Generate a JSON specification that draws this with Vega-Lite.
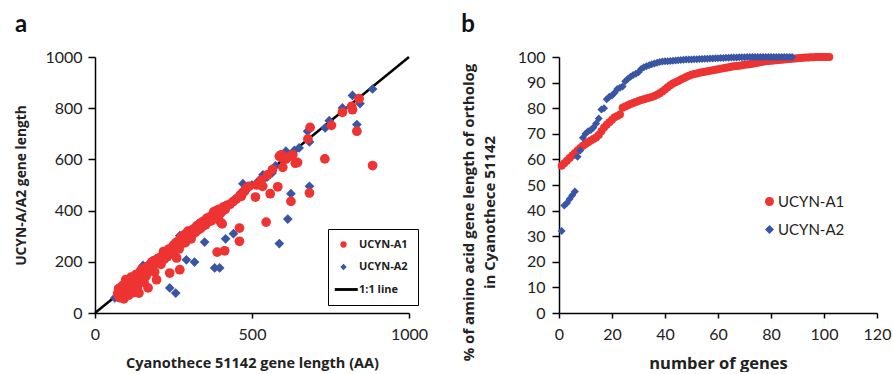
{
  "$schema": "https://vega.github.io/schema/vega-lite/v6.json",
  "padding": {"left": 14, "top": 13, "right": 5, "bottom": 0},
  "background": "white",
  "bounds": "flush",
  "spacing": 150,
  "config": {
    "font": "Lato",
    "view": {"stroke": null},
    "axis": {
      "domainColor": "black", "tickColor": "black", "grid": false,
      "labelColor": "#222", "labelFontSize": 16, "labelFont": "Lato",
      "titleFontSize": 14, "titleFontWeight": "bold", "titleColor": "#222", "titleFont": "Open Sans",
      "domainWidth": 1.5, "tickWidth": 1.5, "labelFlush": false, "labelOverlap": false, "format": "d"
    },
    "title": {"fontSize": 24, "fontWeight": "bold", "anchor": "start", "frame": "bounds", "color": "#111", "font": "Lato"}
  },
  "resolve": {"scale": {"color": "independent", "shape": "independent"}, "legend": {"color": "independent", "shape": "independent"}},
  "hconcat": [
    {
      "title": {"text": "a", "offset": 12},
      "width": 314,
      "height": 256,
      "layer": [
        {
          "data": {"values": [{"x": 0, "y": 0}, {"x": 1000, "y": 1000}]},
          "mark": {"type": "line", "color": "black", "strokeWidth": 2.5},
          "encoding": {
            "x": {"field": "x", "type": "quantitative", "scale": {"domain": [0, 1000]},
              "axis": {"values": [0, 500, 1000], "title": "Cyanothece 51142 gene length (AA)", "titleFontSize": 14.5, "tickSize": 5, "labelPadding": 8, "titlePadding": 14}},
            "y": {"field": "y", "type": "quantitative", "scale": {"domain": [0, 1000]},
              "axis": {"values": [0, 200, 400, 600, 800, 1000], "title": "UCYN-A/A2 gene length", "titleFontSize": 13.8, "tickSize": 7, "labelPadding": 6, "titlePadding": 16}}
          }
        },
        {
          "data": {"values": [
            {"cyano":63,"ucyn":59,"series":"UCYN-A2"},{"cyano":72,"ucyn":68,"series":"UCYN-A2"},{"cyano":80,"ucyn":85,"series":"UCYN-A2"},{"cyano":88,"ucyn":95,"series":"UCYN-A2"},{"cyano":95,"ucyn":92,"series":"UCYN-A2"},{"cyano":105,"ucyn":112,"series":"UCYN-A2"},{"cyano":115,"ucyn":120,"series":"UCYN-A2"},{"cyano":125,"ucyn":135,"series":"UCYN-A2"},{"cyano":135,"ucyn":140,"series":"UCYN-A2"},{"cyano":145,"ucyn":152,"series":"UCYN-A2"},{"cyano":153,"ucyn":186,"series":"UCYN-A2"},{"cyano":160,"ucyn":170,"series":"UCYN-A2"},{"cyano":170,"ucyn":175,"series":"UCYN-A2"},{"cyano":180,"ucyn":190,"series":"UCYN-A2"},{"cyano":194,"ucyn":212,"series":"UCYN-A2"},{"cyano":200,"ucyn":205,"series":"UCYN-A2"},{"cyano":215,"ucyn":225,"series":"UCYN-A2"},{"cyano":225,"ucyn":232,"series":"UCYN-A2"},{"cyano":238,"ucyn":98,"series":"UCYN-A2"},{"cyano":257,"ucyn":78,"series":"UCYN-A2"},{"cyano":240,"ucyn":250,"series":"UCYN-A2"},{"cyano":250,"ucyn":258,"series":"UCYN-A2"},{"cyano":262,"ucyn":268,"series":"UCYN-A2"},{"cyano":270,"ucyn":302,"series":"UCYN-A2"},{"cyano":280,"ucyn":290,"series":"UCYN-A2"},{"cyano":291,"ucyn":208,"series":"UCYN-A2"},{"cyano":300,"ucyn":305,"series":"UCYN-A2"},{"cyano":310,"ucyn":312,"series":"UCYN-A2"},{"cyano":317,"ucyn":199,"series":"UCYN-A2"},{"cyano":327,"ucyn":348,"series":"UCYN-A2"},{"cyano":335,"ucyn":340,"series":"UCYN-A2"},{"cyano":349,"ucyn":277,"series":"UCYN-A2"},{"cyano":358,"ucyn":358,"series":"UCYN-A2"},{"cyano":365,"ucyn":365,"series":"UCYN-A2"},{"cyano":381,"ucyn":176,"series":"UCYN-A2"},{"cyano":397,"ucyn":176,"series":"UCYN-A2"},{"cyano":375,"ucyn":380,"series":"UCYN-A2"},{"cyano":390,"ucyn":392,"series":"UCYN-A2"},{"cyano":407,"ucyn":393,"series":"UCYN-A2"},{"cyano":416,"ucyn":290,"series":"UCYN-A2"},{"cyano":425,"ucyn":420,"series":"UCYN-A2"},{"cyano":441,"ucyn":310,"series":"UCYN-A2"},{"cyano":445,"ucyn":445,"series":"UCYN-A2"},{"cyano":460,"ucyn":455,"series":"UCYN-A2"},{"cyano":471,"ucyn":505,"series":"UCYN-A2"},{"cyano":480,"ucyn":478,"series":"UCYN-A2"},{"cyano":500,"ucyn":500,"series":"UCYN-A2"},{"cyano":520,"ucyn":515,"series":"UCYN-A2"},{"cyano":535,"ucyn":540,"series":"UCYN-A2"},{"cyano":548,"ucyn":531,"series":"UCYN-A2"},{"cyano":564,"ucyn":547,"series":"UCYN-A2"},{"cyano":575,"ucyn":575,"series":"UCYN-A2"},{"cyano":587,"ucyn":271,"series":"UCYN-A2"},{"cyano":595,"ucyn":600,"series":"UCYN-A2"},{"cyano":608,"ucyn":632,"series":"UCYN-A2"},{"cyano":614,"ucyn":367,"series":"UCYN-A2"},{"cyano":624,"ucyn":466,"series":"UCYN-A2"},{"cyano":635,"ucyn":635,"series":"UCYN-A2"},{"cyano":650,"ucyn":645,"series":"UCYN-A2"},{"cyano":677,"ucyn":710,"series":"UCYN-A2"},{"cyano":683,"ucyn":668,"series":"UCYN-A2"},{"cyano":683,"ucyn":495,"series":"UCYN-A2"},{"cyano":733,"ucyn":723,"series":"UCYN-A2"},{"cyano":746,"ucyn":751,"series":"UCYN-A2"},{"cyano":788,"ucyn":801,"series":"UCYN-A2"},{"cyano":820,"ucyn":850,"series":"UCYN-A2"},{"cyano":834,"ucyn":736,"series":"UCYN-A2"},{"cyano":844,"ucyn":818,"series":"UCYN-A2"},{"cyano":884,"ucyn":875,"series":"UCYN-A2"},
            {"cyano":72,"ucyn":75,"series":"UCYN-A1"},{"cyano":75,"ucyn":95,"series":"UCYN-A1"},{"cyano":78,"ucyn":60,"series":"UCYN-A1"},{"cyano":80,"ucyn":85,"series":"UCYN-A1"},{"cyano":82,"ucyn":100,"series":"UCYN-A1"},{"cyano":85,"ucyn":70,"series":"UCYN-A1"},{"cyano":88,"ucyn":90,"series":"UCYN-A1"},{"cyano":90,"ucyn":110,"series":"UCYN-A1"},{"cyano":92,"ucyn":55,"series":"UCYN-A1"},{"cyano":95,"ucyn":80,"series":"UCYN-A1"},{"cyano":98,"ucyn":130,"series":"UCYN-A1"},{"cyano":100,"ucyn":100,"series":"UCYN-A1"},{"cyano":103,"ucyn":85,"series":"UCYN-A1"},{"cyano":105,"ucyn":115,"series":"UCYN-A1"},{"cyano":108,"ucyn":70,"series":"UCYN-A1"},{"cyano":110,"ucyn":125,"series":"UCYN-A1"},{"cyano":113,"ucyn":95,"series":"UCYN-A1"},{"cyano":115,"ucyn":140,"series":"UCYN-A1"},{"cyano":118,"ucyn":105,"series":"UCYN-A1"},{"cyano":120,"ucyn":120,"series":"UCYN-A1"},{"cyano":123,"ucyn":80,"series":"UCYN-A1"},{"cyano":125,"ucyn":135,"series":"UCYN-A1"},{"cyano":128,"ucyn":110,"series":"UCYN-A1"},{"cyano":130,"ucyn":150,"series":"UCYN-A1"},{"cyano":133,"ucyn":125,"series":"UCYN-A1"},{"cyano":135,"ucyn":100,"series":"UCYN-A1"},{"cyano":138,"ucyn":145,"series":"UCYN-A1"},{"cyano":140,"ucyn":78,"series":"UCYN-A1"},{"cyano":143,"ucyn":160,"series":"UCYN-A1"},{"cyano":145,"ucyn":130,"series":"UCYN-A1"},{"cyano":148,"ucyn":170,"series":"UCYN-A1"},{"cyano":150,"ucyn":140,"series":"UCYN-A1"},{"cyano":153,"ucyn":155,"series":"UCYN-A1"},{"cyano":156,"ucyn":120,"series":"UCYN-A1"},{"cyano":158,"ucyn":175,"series":"UCYN-A1"},{"cyano":160,"ucyn":160,"series":"UCYN-A1"},{"cyano":163,"ucyn":145,"series":"UCYN-A1"},{"cyano":165,"ucyn":180,"series":"UCYN-A1"},{"cyano":169,"ucyn":98,"series":"UCYN-A1"},{"cyano":170,"ucyn":165,"series":"UCYN-A1"},{"cyano":175,"ucyn":190,"series":"UCYN-A1"},{"cyano":178,"ucyn":170,"series":"UCYN-A1"},{"cyano":182,"ucyn":200,"series":"UCYN-A1"},{"cyano":185,"ucyn":185,"series":"UCYN-A1"},{"cyano":188,"ucyn":205,"series":"UCYN-A1"},{"cyano":190,"ucyn":160,"series":"UCYN-A1"},{"cyano":196,"ucyn":130,"series":"UCYN-A1"},{"cyano":198,"ucyn":210,"series":"UCYN-A1"},{"cyano":200,"ucyn":200,"series":"UCYN-A1"},{"cyano":205,"ucyn":215,"series":"UCYN-A1"},{"cyano":210,"ucyn":190,"series":"UCYN-A1"},{"cyano":215,"ucyn":225,"series":"UCYN-A1"},{"cyano":218,"ucyn":240,"series":"UCYN-A1"},{"cyano":220,"ucyn":210,"series":"UCYN-A1"},{"cyano":225,"ucyn":235,"series":"UCYN-A1"},{"cyano":230,"ucyn":220,"series":"UCYN-A1"},{"cyano":235,"ucyn":250,"series":"UCYN-A1"},{"cyano":238,"ucyn":156,"series":"UCYN-A1"},{"cyano":240,"ucyn":240,"series":"UCYN-A1"},{"cyano":245,"ucyn":255,"series":"UCYN-A1"},{"cyano":248,"ucyn":230,"series":"UCYN-A1"},{"cyano":250,"ucyn":265,"series":"UCYN-A1"},{"cyano":255,"ucyn":250,"series":"UCYN-A1"},{"cyano":258,"ucyn":275,"series":"UCYN-A1"},{"cyano":260,"ucyn":215,"series":"UCYN-A1"},{"cyano":262,"ucyn":260,"series":"UCYN-A1"},{"cyano":265,"ucyn":280,"series":"UCYN-A1"},{"cyano":268,"ucyn":250,"series":"UCYN-A1"},{"cyano":270,"ucyn":169,"series":"UCYN-A1"},{"cyano":272,"ucyn":290,"series":"UCYN-A1"},{"cyano":275,"ucyn":270,"series":"UCYN-A1"},{"cyano":278,"ucyn":300,"series":"UCYN-A1"},{"cyano":280,"ucyn":280,"series":"UCYN-A1"},{"cyano":285,"ucyn":305,"series":"UCYN-A1"},{"cyano":288,"ucyn":275,"series":"UCYN-A1"},{"cyano":290,"ucyn":310,"series":"UCYN-A1"},{"cyano":293,"ucyn":295,"series":"UCYN-A1"},{"cyano":296,"ucyn":320,"series":"UCYN-A1"},{"cyano":300,"ucyn":300,"series":"UCYN-A1"},{"cyano":303,"ucyn":315,"series":"UCYN-A1"},{"cyano":306,"ucyn":290,"series":"UCYN-A1"},{"cyano":310,"ucyn":325,"series":"UCYN-A1"},{"cyano":313,"ucyn":310,"series":"UCYN-A1"},{"cyano":316,"ucyn":330,"series":"UCYN-A1"},{"cyano":320,"ucyn":315,"series":"UCYN-A1"},{"cyano":324,"ucyn":340,"series":"UCYN-A1"},{"cyano":328,"ucyn":325,"series":"UCYN-A1"},{"cyano":332,"ucyn":345,"series":"UCYN-A1"},{"cyano":336,"ucyn":330,"series":"UCYN-A1"},{"cyano":340,"ucyn":355,"series":"UCYN-A1"},{"cyano":344,"ucyn":340,"series":"UCYN-A1"},{"cyano":348,"ucyn":360,"series":"UCYN-A1"},{"cyano":352,"ucyn":345,"series":"UCYN-A1"},{"cyano":356,"ucyn":370,"series":"UCYN-A1"},{"cyano":360,"ucyn":355,"series":"UCYN-A1"},{"cyano":365,"ucyn":375,"series":"UCYN-A1"},{"cyano":370,"ucyn":360,"series":"UCYN-A1"},{"cyano":375,"ucyn":385,"series":"UCYN-A1"},{"cyano":378,"ucyn":395,"series":"UCYN-A1"},{"cyano":382,"ucyn":370,"series":"UCYN-A1"},{"cyano":386,"ucyn":400,"series":"UCYN-A1"},{"cyano":389,"ucyn":238,"series":"UCYN-A1"},{"cyano":390,"ucyn":380,"series":"UCYN-A1"},{"cyano":393,"ucyn":365,"series":"UCYN-A1"},{"cyano":395,"ucyn":405,"series":"UCYN-A1"},{"cyano":400,"ucyn":390,"series":"UCYN-A1"},{"cyano":402,"ucyn":352,"series":"UCYN-A1"},{"cyano":405,"ucyn":348,"series":"UCYN-A1"},{"cyano":410,"ucyn":415,"series":"UCYN-A1"},{"cyano":413,"ucyn":243,"series":"UCYN-A1"},{"cyano":415,"ucyn":405,"series":"UCYN-A1"},{"cyano":420,"ucyn":420,"series":"UCYN-A1"},{"cyano":430,"ucyn":425,"series":"UCYN-A1"},{"cyano":440,"ucyn":435,"series":"UCYN-A1"},{"cyano":450,"ucyn":445,"series":"UCYN-A1"},{"cyano":460,"ucyn":332,"series":"UCYN-A1"},{"cyano":460,"ucyn":280,"series":"UCYN-A1"},{"cyano":462,"ucyn":460,"series":"UCYN-A1"},{"cyano":466,"ucyn":456,"series":"UCYN-A1"},{"cyano":470,"ucyn":470,"series":"UCYN-A1"},{"cyano":476,"ucyn":475,"series":"UCYN-A1"},{"cyano":480,"ucyn":485,"series":"UCYN-A1"},{"cyano":490,"ucyn":495,"series":"UCYN-A1"},{"cyano":511,"ucyn":453,"series":"UCYN-A1"},{"cyano":515,"ucyn":500,"series":"UCYN-A1"},{"cyano":524,"ucyn":505,"series":"UCYN-A1"},{"cyano":530,"ucyn":520,"series":"UCYN-A1"},{"cyano":534,"ucyn":495,"series":"UCYN-A1"},{"cyano":545,"ucyn":355,"series":"UCYN-A1"},{"cyano":550,"ucyn":540,"series":"UCYN-A1"},{"cyano":558,"ucyn":466,"series":"UCYN-A1"},{"cyano":565,"ucyn":560,"series":"UCYN-A1"},{"cyano":582,"ucyn":493,"series":"UCYN-A1"},{"cyano":587,"ucyn":612,"series":"UCYN-A1"},{"cyano":593,"ucyn":618,"series":"UCYN-A1"},{"cyano":598,"ucyn":569,"series":"UCYN-A1"},{"cyano":598,"ucyn":605,"series":"UCYN-A1"},{"cyano":608,"ucyn":601,"series":"UCYN-A1"},{"cyano":619,"ucyn":612,"series":"UCYN-A1"},{"cyano":624,"ucyn":436,"series":"UCYN-A1"},{"cyano":630,"ucyn":618,"series":"UCYN-A1"},{"cyano":638,"ucyn":585,"series":"UCYN-A1"},{"cyano":645,"ucyn":588,"series":"UCYN-A1"},{"cyano":678,"ucyn":680,"series":"UCYN-A1"},{"cyano":683,"ucyn":469,"series":"UCYN-A1"},{"cyano":685,"ucyn":725,"series":"UCYN-A1"},{"cyano":732,"ucyn":602,"series":"UCYN-A1"},{"cyano":753,"ucyn":733,"series":"UCYN-A1"},{"cyano":788,"ucyn":784,"series":"UCYN-A1"},{"cyano":817,"ucyn":807,"series":"UCYN-A1"},{"cyano":820,"ucyn":794,"series":"UCYN-A1"},{"cyano":834,"ucyn":710,"series":"UCYN-A1"},{"cyano":841,"ucyn":837,"series":"UCYN-A1"},{"cyano":884,"ucyn":576,"series":"UCYN-A1"}
          ]},
          "mark": {"type": "point", "filled": true, "opacity": 1, "size": 95},
          "encoding": {
            "x": {"field": "cyano", "type": "quantitative"},
            "y": {"field": "ucyn", "type": "quantitative"},
            "color": {"field": "series", "type": "nominal",
              "scale": {"domain": ["UCYN-A1", "UCYN-A2", "1:1 line"], "range": ["#ee3333", "#3a55a5", "#000000"]},
              "legend": {"orient": "none", "legendX": 233, "legendY": 172, "title": null,
                "strokeColor": "black", "padding": 10, "fillColor": "white",
                "labelFontSize": 11, "labelFont": "Open Sans", "labelFontWeight": "bold", "labelColor": "#222",
                "symbolSize": 40, "rowPadding": 10.5, "labelOffset": 10}},
            "shape": {"field": "series", "type": "nominal",
              "scale": {"domain": ["UCYN-A1", "UCYN-A2", "1:1 line"], "range": ["circle", "diamond", "M-2.75,-0.45L4.5,-0.45L4.5,0.45L-2.75,0.45Z"]}}
          }
        }
      ]
    },
    {
      "title": {"text": "b", "offset": 12},
      "width": 318,
      "height": 256,
      "data": {"values": [
        {"n":1,"pct":57.5,"org":"UCYN-A1"},{"n":2,"pct":58.5,"org":"UCYN-A1"},{"n":3,"pct":59.5,"org":"UCYN-A1"},{"n":4,"pct":60.5,"org":"UCYN-A1"},{"n":5,"pct":61.5,"org":"UCYN-A1"},{"n":6,"pct":62.5,"org":"UCYN-A1"},{"n":7,"pct":63.5,"org":"UCYN-A1"},{"n":8,"pct":64.5,"org":"UCYN-A1"},{"n":9,"pct":65.3,"org":"UCYN-A1"},{"n":10,"pct":66,"org":"UCYN-A1"},{"n":11,"pct":66.7,"org":"UCYN-A1"},{"n":12,"pct":67.4,"org":"UCYN-A1"},{"n":13,"pct":68,"org":"UCYN-A1"},{"n":14,"pct":68.6,"org":"UCYN-A1"},{"n":15,"pct":69.5,"org":"UCYN-A1"},{"n":16,"pct":71,"org":"UCYN-A1"},{"n":17,"pct":72.5,"org":"UCYN-A1"},{"n":18,"pct":73.5,"org":"UCYN-A1"},{"n":19,"pct":74.5,"org":"UCYN-A1"},{"n":20,"pct":75.5,"org":"UCYN-A1"},{"n":21,"pct":76.5,"org":"UCYN-A1"},{"n":22,"pct":77,"org":"UCYN-A1"},{"n":23,"pct":77.5,"org":"UCYN-A1"},{"n":24,"pct":80.2,"org":"UCYN-A1"},{"n":25,"pct":80.7,"org":"UCYN-A1"},{"n":26,"pct":81.2,"org":"UCYN-A1"},{"n":27,"pct":81.6,"org":"UCYN-A1"},{"n":28,"pct":82,"org":"UCYN-A1"},{"n":29,"pct":82.4,"org":"UCYN-A1"},{"n":30,"pct":82.8,"org":"UCYN-A1"},{"n":31,"pct":83.2,"org":"UCYN-A1"},{"n":32,"pct":83.5,"org":"UCYN-A1"},{"n":33,"pct":83.8,"org":"UCYN-A1"},{"n":34,"pct":84.1,"org":"UCYN-A1"},{"n":35,"pct":84.4,"org":"UCYN-A1"},{"n":36,"pct":84.8,"org":"UCYN-A1"},{"n":37,"pct":85.3,"org":"UCYN-A1"},{"n":38,"pct":85.8,"org":"UCYN-A1"},{"n":39,"pct":86.5,"org":"UCYN-A1"},{"n":40,"pct":87.3,"org":"UCYN-A1"},{"n":41,"pct":88.2,"org":"UCYN-A1"},{"n":42,"pct":89,"org":"UCYN-A1"},{"n":43,"pct":89.6,"org":"UCYN-A1"},{"n":44,"pct":90.1,"org":"UCYN-A1"},{"n":45,"pct":90.6,"org":"UCYN-A1"},{"n":46,"pct":91.2,"org":"UCYN-A1"},{"n":47,"pct":91.7,"org":"UCYN-A1"},{"n":48,"pct":92.2,"org":"UCYN-A1"},{"n":49,"pct":92.7,"org":"UCYN-A1"},{"n":50,"pct":93.1,"org":"UCYN-A1"},{"n":51,"pct":93.4,"org":"UCYN-A1"},{"n":52,"pct":93.6,"org":"UCYN-A1"},{"n":53,"pct":93.8,"org":"UCYN-A1"},{"n":54,"pct":94,"org":"UCYN-A1"},{"n":55,"pct":94.2,"org":"UCYN-A1"},{"n":56,"pct":94.4,"org":"UCYN-A1"},{"n":57,"pct":94.6,"org":"UCYN-A1"},{"n":58,"pct":94.8,"org":"UCYN-A1"},{"n":59,"pct":95,"org":"UCYN-A1"},{"n":60,"pct":95.2,"org":"UCYN-A1"},{"n":61,"pct":95.4,"org":"UCYN-A1"},{"n":62,"pct":95.6,"org":"UCYN-A1"},{"n":63,"pct":95.8,"org":"UCYN-A1"},{"n":64,"pct":96,"org":"UCYN-A1"},{"n":65,"pct":96.2,"org":"UCYN-A1"},{"n":66,"pct":96.4,"org":"UCYN-A1"},{"n":67,"pct":96.5,"org":"UCYN-A1"},{"n":68,"pct":96.6,"org":"UCYN-A1"},{"n":69,"pct":96.8,"org":"UCYN-A1"},{"n":70,"pct":97,"org":"UCYN-A1"},{"n":71,"pct":97.1,"org":"UCYN-A1"},{"n":72,"pct":97.2,"org":"UCYN-A1"},{"n":73,"pct":97.4,"org":"UCYN-A1"},{"n":74,"pct":97.6,"org":"UCYN-A1"},{"n":75,"pct":97.8,"org":"UCYN-A1"},{"n":76,"pct":98,"org":"UCYN-A1"},{"n":77,"pct":98.1,"org":"UCYN-A1"},{"n":78,"pct":98.3,"org":"UCYN-A1"},{"n":79,"pct":98.4,"org":"UCYN-A1"},{"n":80,"pct":98.5,"org":"UCYN-A1"},{"n":81,"pct":98.6,"org":"UCYN-A1"},{"n":82,"pct":98.7,"org":"UCYN-A1"},{"n":83,"pct":98.8,"org":"UCYN-A1"},{"n":84,"pct":98.9,"org":"UCYN-A1"},{"n":85,"pct":99,"org":"UCYN-A1"},{"n":86,"pct":99.1,"org":"UCYN-A1"},{"n":87,"pct":99.2,"org":"UCYN-A1"},{"n":88,"pct":99.3,"org":"UCYN-A1"},{"n":89,"pct":99.4,"org":"UCYN-A1"},{"n":90,"pct":99.5,"org":"UCYN-A1"},{"n":91,"pct":99.6,"org":"UCYN-A1"},{"n":92,"pct":99.7,"org":"UCYN-A1"},{"n":93,"pct":99.8,"org":"UCYN-A1"},{"n":94,"pct":99.8,"org":"UCYN-A1"},{"n":95,"pct":99.9,"org":"UCYN-A1"},{"n":96,"pct":99.9,"org":"UCYN-A1"},{"n":97,"pct":100,"org":"UCYN-A1"},{"n":98,"pct":100,"org":"UCYN-A1"},{"n":99,"pct":100,"org":"UCYN-A1"},{"n":100,"pct":100,"org":"UCYN-A1"},{"n":101,"pct":100,"org":"UCYN-A1"},{"n":102,"pct":100,"org":"UCYN-A1"},
        {"n":1,"pct":32,"org":"UCYN-A2"},{"n":2,"pct":42,"org":"UCYN-A2"},{"n":3,"pct":43,"org":"UCYN-A2"},{"n":4,"pct":44.5,"org":"UCYN-A2"},{"n":5,"pct":46,"org":"UCYN-A2"},{"n":6,"pct":47.5,"org":"UCYN-A2"},{"n":7,"pct":61,"org":"UCYN-A2"},{"n":8,"pct":63.5,"org":"UCYN-A2"},{"n":9,"pct":68.5,"org":"UCYN-A2"},{"n":10,"pct":70,"org":"UCYN-A2"},{"n":11,"pct":71,"org":"UCYN-A2"},{"n":12,"pct":71.5,"org":"UCYN-A2"},{"n":13,"pct":72.5,"org":"UCYN-A2"},{"n":14,"pct":74,"org":"UCYN-A2"},{"n":15,"pct":76,"org":"UCYN-A2"},{"n":16,"pct":79.5,"org":"UCYN-A2"},{"n":17,"pct":80,"org":"UCYN-A2"},{"n":18,"pct":83.5,"org":"UCYN-A2"},{"n":19,"pct":84.5,"org":"UCYN-A2"},{"n":20,"pct":85,"org":"UCYN-A2"},{"n":21,"pct":86,"org":"UCYN-A2"},{"n":22,"pct":87.5,"org":"UCYN-A2"},{"n":23,"pct":88,"org":"UCYN-A2"},{"n":24,"pct":88.5,"org":"UCYN-A2"},{"n":25,"pct":90.5,"org":"UCYN-A2"},{"n":26,"pct":91.5,"org":"UCYN-A2"},{"n":27,"pct":92.3,"org":"UCYN-A2"},{"n":28,"pct":93,"org":"UCYN-A2"},{"n":29,"pct":93.5,"org":"UCYN-A2"},{"n":30,"pct":94,"org":"UCYN-A2"},{"n":31,"pct":95.3,"org":"UCYN-A2"},{"n":32,"pct":96,"org":"UCYN-A2"},{"n":33,"pct":96.4,"org":"UCYN-A2"},{"n":34,"pct":96.8,"org":"UCYN-A2"},{"n":35,"pct":97.2,"org":"UCYN-A2"},{"n":36,"pct":97.5,"org":"UCYN-A2"},{"n":37,"pct":97.8,"org":"UCYN-A2"},{"n":38,"pct":98,"org":"UCYN-A2"},{"n":39,"pct":98.2,"org":"UCYN-A2"},{"n":40,"pct":98.3,"org":"UCYN-A2"},{"n":41,"pct":98.3,"org":"UCYN-A2"},{"n":42,"pct":98.4,"org":"UCYN-A2"},{"n":43,"pct":98.5,"org":"UCYN-A2"},{"n":44,"pct":98.6,"org":"UCYN-A2"},{"n":45,"pct":98.7,"org":"UCYN-A2"},{"n":46,"pct":98.8,"org":"UCYN-A2"},{"n":47,"pct":98.9,"org":"UCYN-A2"},{"n":48,"pct":99,"org":"UCYN-A2"},{"n":49,"pct":99,"org":"UCYN-A2"},{"n":50,"pct":99,"org":"UCYN-A2"},{"n":51,"pct":99.1,"org":"UCYN-A2"},{"n":52,"pct":99.1,"org":"UCYN-A2"},{"n":53,"pct":99.2,"org":"UCYN-A2"},{"n":54,"pct":99.2,"org":"UCYN-A2"},{"n":55,"pct":99.3,"org":"UCYN-A2"},{"n":56,"pct":99.3,"org":"UCYN-A2"},{"n":57,"pct":99.4,"org":"UCYN-A2"},{"n":58,"pct":99.4,"org":"UCYN-A2"},{"n":59,"pct":99.5,"org":"UCYN-A2"},{"n":60,"pct":99.5,"org":"UCYN-A2"},{"n":61,"pct":99.6,"org":"UCYN-A2"},{"n":62,"pct":99.6,"org":"UCYN-A2"},{"n":63,"pct":99.7,"org":"UCYN-A2"},{"n":64,"pct":99.7,"org":"UCYN-A2"},{"n":65,"pct":99.8,"org":"UCYN-A2"},{"n":66,"pct":99.8,"org":"UCYN-A2"},{"n":67,"pct":99.8,"org":"UCYN-A2"},{"n":68,"pct":99.9,"org":"UCYN-A2"},{"n":69,"pct":99.9,"org":"UCYN-A2"},{"n":70,"pct":99.9,"org":"UCYN-A2"},{"n":71,"pct":100,"org":"UCYN-A2"},{"n":72,"pct":100,"org":"UCYN-A2"},{"n":73,"pct":100,"org":"UCYN-A2"},{"n":74,"pct":100,"org":"UCYN-A2"},{"n":75,"pct":100,"org":"UCYN-A2"},{"n":76,"pct":100,"org":"UCYN-A2"},{"n":77,"pct":100,"org":"UCYN-A2"},{"n":78,"pct":100,"org":"UCYN-A2"},{"n":79,"pct":100,"org":"UCYN-A2"},{"n":80,"pct":100,"org":"UCYN-A2"},{"n":81,"pct":100,"org":"UCYN-A2"},{"n":82,"pct":100,"org":"UCYN-A2"},{"n":83,"pct":100,"org":"UCYN-A2"},{"n":84,"pct":100,"org":"UCYN-A2"},{"n":85,"pct":100,"org":"UCYN-A2"},{"n":86,"pct":100,"org":"UCYN-A2"},{"n":87,"pct":100,"org":"UCYN-A2"},{"n":88,"pct":100,"org":"UCYN-A2"}
      ]},
      "mark": {"type": "point", "filled": true, "opacity": 1, "size": 64},
      "encoding": {
        "x": {"field": "n", "type": "quantitative", "scale": {"domain": [0, 120]},
          "axis": {"values": [0, 20, 40, 60, 80, 100, 120], "title": "number of genes", "titleFontSize": 16.5, "tickSize": 5, "labelPadding": 8, "titlePadding": 13}},
        "y": {"field": "pct", "type": "quantitative", "scale": {"domain": [0, 100]},
          "axis": {"values": [0, 10, 20, 30, 40, 50, 60, 70, 80, 90, 100],
            "title": ["% of amino acid gene length of ortholog", "in Cyanothece  51142"],
            "titleFontSize": 15, "titleLineHeight": 21, "titleY": 155, "tickSize": 7, "labelPadding": 7, "titlePadding": 20}},
        "color": {"field": "org", "type": "nominal",
          "scale": {"domain": ["UCYN-A1", "UCYN-A2"], "range": ["#ee3333", "#3a55a5"]},
          "legend": {"orient": "none", "legendX": 203, "legendY": 137, "title": null, "padding": 0,
            "labelFontSize": 15, "labelFont": "Lato", "labelColor": "#222", "symbolSize": 81,
            "rowPadding": 12, "labelOffset": 1}},
        "shape": {"field": "org", "type": "nominal",
          "scale": {"domain": ["UCYN-A1", "UCYN-A2"], "range": ["circle", "diamond"]}}
      }
    }
  ]
}
